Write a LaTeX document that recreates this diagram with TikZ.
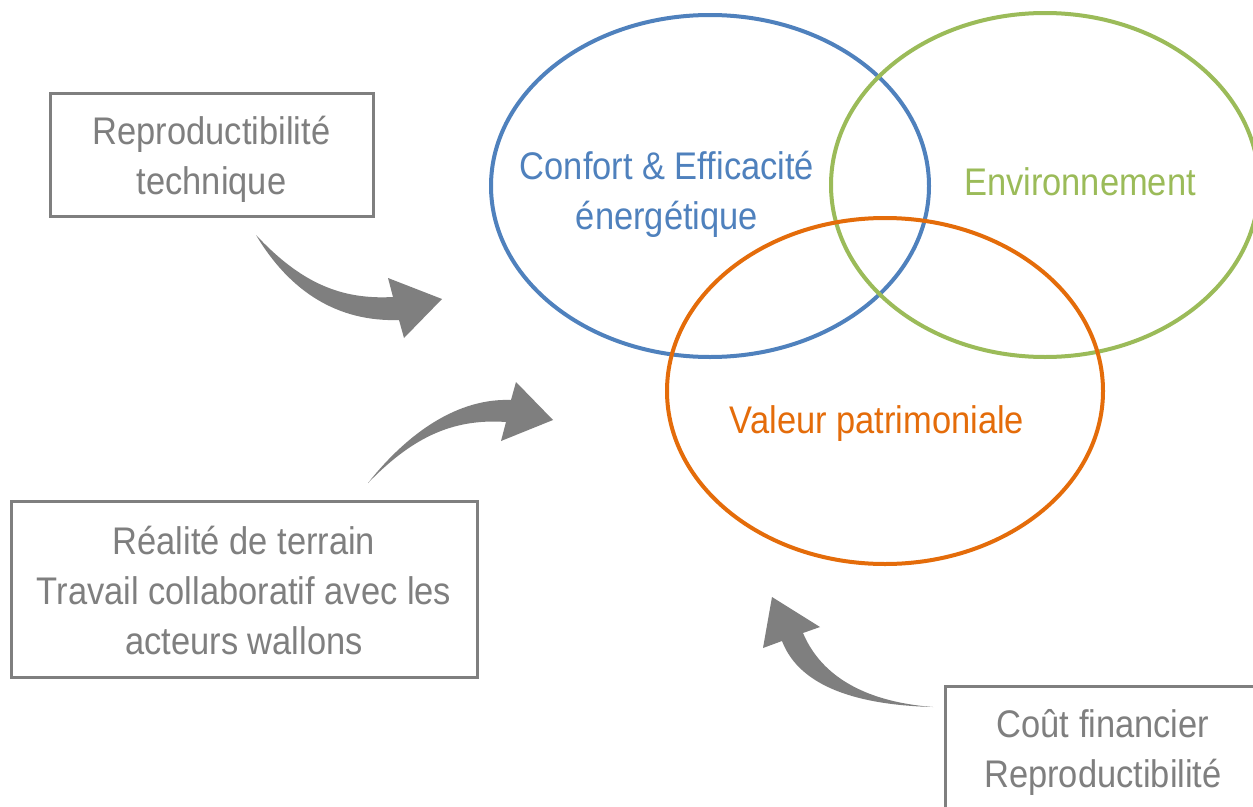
\documentclass[tikz,border=0pt]{standalone}
\usepackage{fontspec}
\setmainfont[FakeStretch=0.895]{Liberation Sans}
\definecolor{cblue}{HTML}{4F81BD}
\definecolor{cgreen}{HTML}{9BBB59}
\definecolor{corange}{HTML}{E46C0A}
\definecolor{cgray}{HTML}{7F7F7F}
\tikzset{
  lbl/.style={align=center, font=\fontsize{38.5}{50}\selectfont, inner sep=0pt},
  boxframe/.style={draw=cgray, line width=3pt},
  curvedarrow/.style={fill=cgray, draw=none},
}
\begin{document}
\begin{tikzpicture}[x=1pt,y=-1pt]
\useasboundingbox (0,0) rectangle (1253,806);
\clip (0,0) rectangle (1253,806);
\fill[white] (0,0) rectangle (1253,806);
% ellipses
\draw[cblue, line width=4pt] (710,186) ellipse [x radius=219, y radius=171];
\draw[cgreen, line width=4pt] (1045,185) ellipse [x radius=214, y radius=172];
\draw[corange, line width=4pt] (885,391) ellipse [x radius=218, y radius=173];
\node[lbl, text=cblue] (confort) at (667,194) {Confort \& Efficacité\\énergétique};
\node[lbl, text=cgreen] (env) at (1080,182) {Environnement};
\node[lbl, text=corange] (valeur) at (877,424) {Valeur patrimoniale};
% boxes
\node[boxframe, minimum width=323pt, minimum height=123pt, inner sep=0pt] (b1) at (211.5,154.5) {};
\node[lbl, text=cgray] (t1) at (211.5,159) {Reproductibilité\\technique};
\node[boxframe, minimum width=466pt, minimum height=176pt, inner sep=0pt] (b2) at (244,589) {};
\node[lbl, text=cgray] (t2) at (244,591) {Réalité de terrain\\Travail collaboratif avec les\\acteurs wallons};
\node[boxframe, minimum width=316pt, minimum height=150pt, inner sep=0pt] (b3) at (1103,761) {};
\node[lbl, text=cgray] (t3) at (1103,752) {Coût financier\\Reproductibilité};
% curved arrows
\fill[curvedarrow] (256,235) .. controls (300,282) and (340,300) .. (393,297)
  -- (388,278) -- (442,299) -- (404,338) -- (399,320)
  .. controls (338,322) and (290,292) .. (256,235) -- cycle;
\fill[curvedarrow] (368,483) .. controls (410,430) and (460,398) .. (511,400)
  -- (516,382) -- (553,420) -- (501,441) -- (506,422)
  .. controls (450,418) and (410,440) .. (368,483) -- cycle;
\fill[curvedarrow] (933,707) .. controls (880,703) and (825,685) .. (803,633)
  -- (820,627) -- (772,597) -- (763,648) -- (782,641)
  .. controls (800,688) and (860,705) .. (933,707) -- cycle;
\end{tikzpicture}
\end{document}
